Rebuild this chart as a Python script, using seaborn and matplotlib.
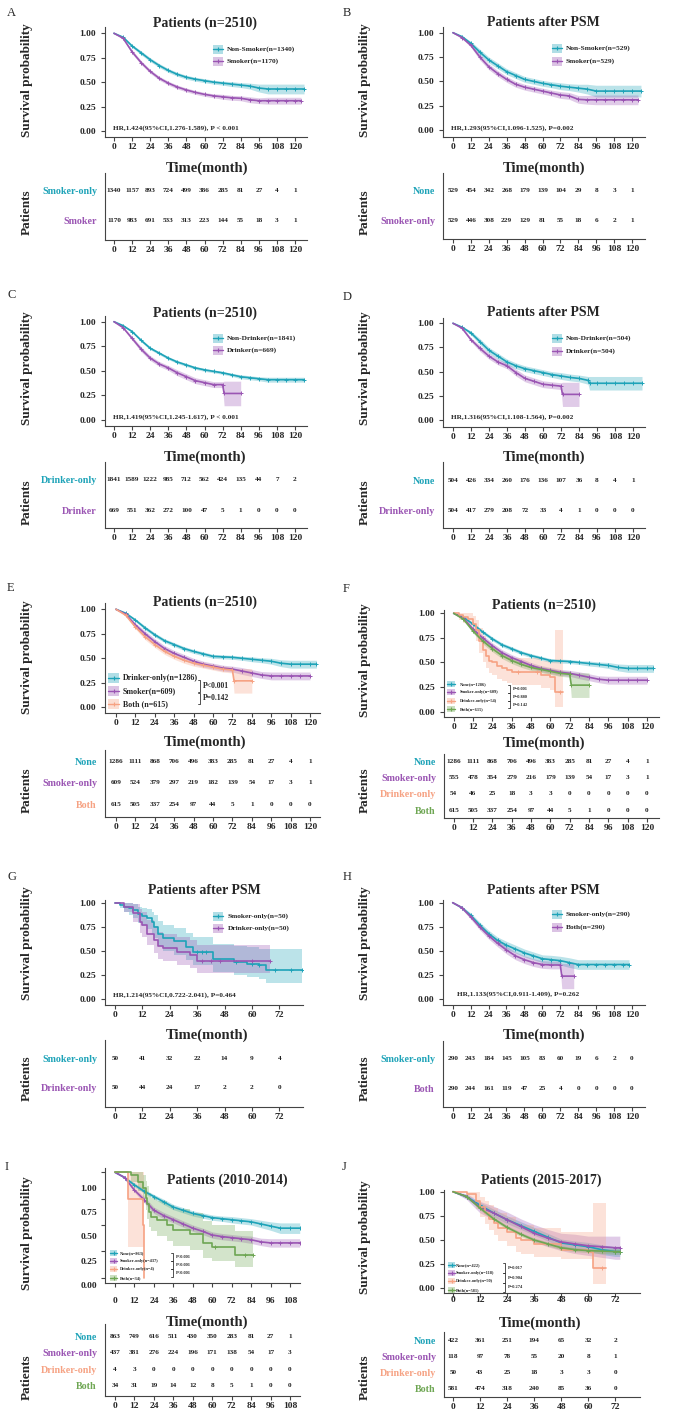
import numpy as np
import matplotlib
matplotlib.use('Agg')
import matplotlib.pyplot as plt
import seaborn as sns
from matplotlib.patches import Rectangle

sns.set_theme(style='ticks')
plt.rcParams['font.family'] = ['Liberation Serif', 'DejaVu Serif']
plt.rcParams['font.weight'] = 'bold'

TEAL = '#1ea3b8'
PURPLE = '#9a55b3'
SALMON = '#f6a283'
GREEN = '#6ea653'
ROW_COLORS = [TEAL, PURPLE, SALMON, GREEN]

# ---------------- time grids (months) ----------------
months_126 = [0, 6, 12, 18, 24, 30, 36, 42, 48, 54, 60, 66, 72, 78, 84, 90, 96, 102, 108, 114, 120, 126]
months_124 = [0, 6, 12, 18, 24, 30, 36, 42, 48, 54, 60, 66, 72, 78, 84, 90, 96, 102, 108, 114, 120, 124]
months_120 = [0, 6, 12, 18, 24, 30, 36, 42, 48, 54, 60, 66, 72, 78, 84, 90, 96, 102, 108, 114, 120]
months_118 = [0, 6, 12, 18, 24, 30, 36, 42, 48, 54, 60, 66, 72, 78, 84, 90, 96, 102, 108, 114, 118]
months_114 = [0, 6, 12, 18, 24, 30, 36, 42, 48, 54, 60, 66, 72, 78, 84, 90, 96, 102, 108, 114]
months_d = [0, 6, 12, 18, 24, 30, 36, 42, 48, 54, 60, 66, 72, 78, 84, 90, 91, 96, 102, 108, 114, 120, 126]
months_drop84 = [0, 6, 12, 18, 24, 30, 36, 42, 48, 54, 60, 66, 72, 73, 84]
months_drop81 = [0, 6, 12, 18, 24, 30, 36, 42, 48, 54, 60, 66, 72, 73, 81]
months_74 = [0, 6, 12, 18, 24, 30, 36, 42, 48, 54, 60, 66, 72, 74]

ticks_120 = [0, 12, 24, 36, 48, 60, 72, 84, 96, 108, 120]
ticks_108 = [0, 12, 24, 36, 48, 60, 72, 84, 96, 108]
ticks_72 = [0, 12, 24, 36, 48, 60, 72]

# ---------------- A ----------------
a_nonsmk = [1.00, 0.96, 0.87, 0.80, 0.73, 0.67, 0.62, 0.58, 0.55, 0.53, 0.515, 0.50, 0.49, 0.48, 0.47, 0.46, 0.44, 0.43, 0.43, 0.43, 0.43, 0.43]
a_nonsmk_ci = [0, 0.01, 0.015, 0.02, 0.02, 0.02, 0.02, 0.02, 0.02, 0.02, 0.02, 0.02, 0.02, 0.025, 0.025, 0.03, 0.04, 0.05, 0.05, 0.05, 0.05, 0.05]
a_smk = [1.0, 0.95, 0.81, 0.70, 0.61, 0.54, 0.49, 0.45, 0.42, 0.395, 0.375, 0.36, 0.35, 0.34, 0.335, 0.32, 0.31, 0.31, 0.31, 0.31, 0.31, 0.31]
a_smk_ci = [0, 0.01, 0.02, 0.02, 0.02, 0.02, 0.02, 0.02, 0.02, 0.02, 0.02, 0.02, 0.025, 0.025, 0.025, 0.03, 0.03, 0.035, 0.035, 0.035, 0.035, 0.035]
a_risk = [[1340, 1157, 893, 724, 499, 386, 285, 81, 27, 4, 1],
          [1170, 983, 691, 533, 313, 223, 144, 55, 18, 3, 1]]

# ---------------- B ----------------
b_nonsmk = [1.0, 0.96, 0.89, 0.80, 0.72, 0.66, 0.60, 0.56, 0.52, 0.50, 0.48, 0.465, 0.45, 0.44, 0.43, 0.42, 0.40, 0.40, 0.40, 0.40, 0.40, 0.40]
b_nonsmk_ci = [0, 0.01, 0.02, 0.03, 0.03, 0.03, 0.03, 0.03, 0.03, 0.03, 0.03, 0.03, 0.035, 0.035, 0.04, 0.05, 0.06, 0.06, 0.06, 0.06, 0.06, 0.06]
b_smk = [1.0, 0.95, 0.87, 0.75, 0.65, 0.58, 0.52, 0.47, 0.44, 0.42, 0.40, 0.38, 0.36, 0.35, 0.315, 0.31, 0.31, 0.31, 0.31, 0.31, 0.31, 0.31]
b_smk_ci = [0, 0.01, 0.02, 0.03, 0.03, 0.03, 0.03, 0.03, 0.03, 0.03, 0.03, 0.03, 0.035, 0.035, 0.04, 0.045, 0.05, 0.05, 0.05, 0.05, 0.05, 0.05]
b_risk = [[529, 454, 342, 268, 179, 139, 104, 29, 8, 3, 1],
          [529, 446, 308, 229, 129, 81, 55, 18, 6, 2, 1]]

# ---------------- C ----------------
c_nondrk = [1.0, 0.96, 0.90, 0.81, 0.73, 0.68, 0.63, 0.59, 0.56, 0.53, 0.51, 0.495, 0.48, 0.46, 0.44, 0.43, 0.42, 0.41, 0.41, 0.41, 0.41, 0.41]
c_nondrk_ci = [0, 0.01, 0.01, 0.015, 0.015, 0.015, 0.015, 0.015, 0.015, 0.015, 0.015, 0.015, 0.015, 0.015, 0.02, 0.02, 0.02, 0.025, 0.025, 0.025, 0.025, 0.025]
c_drk = [1.0, 0.94, 0.83, 0.72, 0.63, 0.57, 0.53, 0.48, 0.44, 0.40, 0.38, 0.36, 0.36, 0.27, 0.27]
c_drk_ci = [0, 0.01, 0.02, 0.025, 0.025, 0.025, 0.025, 0.03, 0.03, 0.03, 0.03, 0.03, 0.03, 0.125, 0.125]
c_risk = [[1841, 1589, 1222, 985, 712, 562, 424, 135, 44, 7, 2],
          [669, 551, 362, 272, 100, 47, 5, 1, 0, 0, 0]]

# ---------------- D ----------------
d_nondrk = [1.0, 0.96, 0.90, 0.81, 0.72, 0.66, 0.60, 0.56, 0.53, 0.51, 0.49, 0.47, 0.455, 0.44, 0.43, 0.41, 0.38, 0.38, 0.38, 0.38, 0.38, 0.38, 0.38]
d_nondrk_ci = [0, 0.01, 0.02, 0.03, 0.03, 0.03, 0.03, 0.03, 0.03, 0.03, 0.03, 0.03, 0.035, 0.035, 0.035, 0.04, 0.07, 0.07, 0.07, 0.07, 0.07, 0.07, 0.07]
d_drk = [1.0, 0.95, 0.83, 0.74, 0.66, 0.60, 0.56, 0.49, 0.43, 0.40, 0.37, 0.36, 0.35, 0.265, 0.265]
d_drk_ci = [0, 0.01, 0.02, 0.03, 0.03, 0.03, 0.03, 0.035, 0.035, 0.035, 0.035, 0.035, 0.035, 0.125, 0.125]
d_risk = [[504, 426, 334, 260, 176, 136, 107, 36, 8, 4, 1],
          [504, 417, 279, 208, 72, 33, 4, 1, 0, 0, 0]]

# ---------------- E / F (whole cohort, 3-4 groups) ----------------
none_all = [1.0, 0.96, 0.89, 0.81, 0.74, 0.68, 0.64, 0.60, 0.57, 0.545, 0.52, 0.515, 0.51, 0.50, 0.49, 0.48, 0.47, 0.45, 0.44, 0.44, 0.44, 0.44]
none_all_ci = [0, 0.01, 0.015, 0.02, 0.02, 0.02, 0.02, 0.02, 0.02, 0.02, 0.02, 0.02, 0.02, 0.02, 0.025, 0.025, 0.03, 0.035, 0.04, 0.04, 0.04, 0.04]
smk_only_all = [1.0, 0.95, 0.84, 0.75, 0.67, 0.60, 0.55, 0.51, 0.47, 0.44, 0.42, 0.40, 0.39, 0.37, 0.35, 0.33, 0.32, 0.32, 0.32, 0.32, 0.32]
smk_only_all_ci = [0, 0.01, 0.02, 0.03, 0.03, 0.03, 0.03, 0.03, 0.03, 0.03, 0.03, 0.03, 0.03, 0.035, 0.035, 0.035, 0.04, 0.04, 0.04, 0.04, 0.04]
both_all = [1.0, 0.94, 0.82, 0.72, 0.64, 0.57, 0.52, 0.48, 0.45, 0.43, 0.41, 0.39, 0.38, 0.27, 0.27]
both_all_ci = [0, 0.01, 0.02, 0.03, 0.03, 0.03, 0.03, 0.03, 0.03, 0.03, 0.03, 0.03, 0.03, 0.125, 0.125]
f_drk_t = [0, 3, 6, 9, 12, 14, 16, 18, 20, 22, 24, 27, 30, 33, 36, 42, 48, 54, 60, 63, 68]
f_drk = [1.0, 0.98, 0.96, 0.94, 0.89, 0.83, 0.72, 0.63, 0.57, 0.52, 0.50, 0.46, 0.44, 0.42, 0.40, 0.40, 0.40, 0.37, 0.35, 0.20, 0.20]
f_drk_lo = [1.0, 0.93, 0.90, 0.87, 0.80, 0.72, 0.60, 0.50, 0.44, 0.39, 0.37, 0.33, 0.31, 0.29, 0.27, 0.27, 0.27, 0.24, 0.22, 0.05, 0.05]
f_drk_hi = [1.0, 1.0, 1.0, 1.0, 0.97, 0.93, 0.85, 0.77, 0.72, 0.67, 0.65, 0.61, 0.59, 0.57, 0.55, 0.55, 0.55, 0.52, 0.50, 0.83, 0.83]
e_risk = [[1286, 1111, 868, 706, 496, 383, 285, 81, 27, 4, 1],
          [609, 524, 379, 297, 219, 182, 139, 54, 17, 3, 1],
          [615, 505, 337, 254, 97, 44, 5, 1, 0, 0, 0]]
f_risk = [[1286, 1111, 868, 706, 496, 383, 285, 81, 27, 4, 1],
          [555, 478, 354, 279, 216, 179, 139, 54, 17, 3, 1],
          [54, 46, 25, 18, 3, 3, 0, 0, 0, 0, 0],
          [615, 505, 337, 254, 97, 44, 5, 1, 0, 0, 0]]

# ---------------- G ----------------
g_smk_t = [0, 2, 4, 6, 8, 10, 12, 14, 16, 17, 19, 21, 26, 31, 34, 43, 52, 58, 63, 66, 82]
g_smk = [1.0, 0.98, 0.96, 0.94, 0.92, 0.88, 0.86, 0.84, 0.80, 0.75, 0.68, 0.63, 0.60, 0.545, 0.49, 0.42, 0.39, 0.37, 0.35, 0.30, 0.30]
g_smk_lo = [1.0, 0.94, 0.90, 0.87, 0.84, 0.79, 0.76, 0.73, 0.68, 0.63, 0.55, 0.50, 0.46, 0.41, 0.35, 0.28, 0.25, 0.23, 0.21, 0.17, 0.17]
g_smk_hi = [1.0, 1.0, 1.0, 1.0, 0.99, 0.96, 0.94, 0.93, 0.90, 0.87, 0.81, 0.77, 0.74, 0.69, 0.64, 0.57, 0.55, 0.54, 0.52, 0.52, 0.52]
g_drk_t = [0, 4, 8, 11, 12, 14, 17, 19, 21, 27, 33, 36, 60, 68]
g_drk = [1.0, 0.96, 0.89, 0.80, 0.77, 0.68, 0.61, 0.55, 0.53, 0.49, 0.46, 0.40, 0.40, 0.40]
g_drk_lo = [1.0, 0.90, 0.80, 0.69, 0.65, 0.56, 0.48, 0.42, 0.40, 0.36, 0.32, 0.27, 0.27, 0.27]
g_drk_hi = [1.0, 1.0, 0.99, 0.93, 0.90, 0.82, 0.76, 0.70, 0.68, 0.65, 0.61, 0.56, 0.56, 0.56]
g_risk = [[50, 41, 32, 22, 14, 9, 4],
          [50, 44, 24, 17, 2, 2, 0]]

# ---------------- H ----------------
h_smk = [1.0, 0.95, 0.87, 0.77, 0.68, 0.61, 0.56, 0.52, 0.48, 0.45, 0.42, 0.41, 0.40, 0.38, 0.36, 0.36, 0.36, 0.36, 0.36, 0.36, 0.36]
h_smk_ci = [0, 0.015, 0.025, 0.03, 0.035, 0.035, 0.04, 0.04, 0.04, 0.04, 0.04, 0.045, 0.045, 0.05, 0.05, 0.05, 0.05, 0.05, 0.05, 0.05, 0.05]
h_both = [1.0, 0.95, 0.855, 0.75, 0.66, 0.58, 0.51, 0.45, 0.41, 0.38, 0.36, 0.355, 0.355, 0.24, 0.24]
h_both_ci = [0, 0.015, 0.025, 0.03, 0.035, 0.035, 0.04, 0.04, 0.04, 0.04, 0.04, 0.04, 0.04, 0.13, 0.13]
h_risk = [[290, 243, 184, 145, 105, 83, 60, 19, 6, 2, 0],
          [290, 244, 161, 119, 47, 25, 4, 0, 0, 0, 0]]

# ---------------- I ----------------
i_none = [1.0, 0.95, 0.88, 0.82, 0.77, 0.72, 0.67, 0.64, 0.61, 0.59, 0.57, 0.56, 0.55, 0.54, 0.53, 0.51, 0.49, 0.47, 0.47, 0.47]
i_none_ci = [0, 0.01, 0.02, 0.02, 0.02, 0.025, 0.025, 0.025, 0.025, 0.025, 0.025, 0.025, 0.03, 0.03, 0.03, 0.035, 0.04, 0.05, 0.05, 0.05]
i_smk = [1.0, 0.95, 0.83, 0.74, 0.64, 0.59, 0.55, 0.51, 0.47, 0.44, 0.405, 0.39, 0.38, 0.37, 0.36, 0.34, 0.33, 0.33, 0.33, 0.33]
i_smk_ci = [0, 0.01, 0.02, 0.03, 0.03, 0.03, 0.03, 0.03, 0.03, 0.03, 0.03, 0.03, 0.03, 0.03, 0.035, 0.035, 0.04, 0.04, 0.04, 0.04]
i_drk_t = [0, 8, 17, 18]
i_drk = [1.0, 0.75, 0.50, 0.0]
i_drk_lo = [1.0, 0.29, 0.29, 0.0]
i_drk_hi = [1.0, 1.0, 1.0, 0.0]
i_both_t = [0, 10, 14, 17, 19, 20, 21, 22, 26, 32, 36, 46, 54, 60, 74, 85]
i_both = [1.0, 0.97, 0.91, 0.85, 0.76, 0.70, 0.62, 0.58, 0.55, 0.50, 0.45, 0.41, 0.33, 0.29, 0.215, 0.215]
i_both_lo = [1.0, 0.91, 0.82, 0.75, 0.64, 0.56, 0.48, 0.44, 0.40, 0.35, 0.30, 0.26, 0.19, 0.16, 0.10, 0.10]
i_both_hi = [1.0, 1.0, 1.0, 0.97, 0.92, 0.87, 0.80, 0.76, 0.73, 0.69, 0.65, 0.61, 0.54, 0.50, 0.44, 0.44]
i_risk = [[863, 749, 616, 511, 430, 350, 283, 81, 27, 1],
          [437, 381, 276, 224, 196, 171, 138, 54, 17, 3],
          [4, 3, 0, 0, 0, 0, 0, 0, 0, 0],
          [34, 31, 19, 14, 12, 8, 5, 1, 0, 0]]

# ---------------- J ----------------
j_none = [1.0, 0.95, 0.86, 0.78, 0.71, 0.65, 0.59, 0.53, 0.47, 0.45, 0.43, 0.40, 0.38, 0.38]
j_none_ci = [0, 0.02, 0.03, 0.04, 0.04, 0.04, 0.04, 0.04, 0.04, 0.04, 0.045, 0.05, 0.05, 0.05]
j_smk = [1.0, 0.95, 0.84, 0.78, 0.71, 0.64, 0.57, 0.52, 0.48, 0.46, 0.44, 0.43, 0.42, 0.42]
j_smk_ci = [0, 0.03, 0.06, 0.07, 0.08, 0.08, 0.09, 0.09, 0.09, 0.1, 0.1, 0.11, 0.12, 0.12]
j_drk_t = [0, 6, 10, 12, 14, 16, 18, 20, 24, 28, 30, 36, 48, 60, 62, 68]
j_drk = [1.0, 0.98, 0.90, 0.84, 0.78, 0.72, 0.68, 0.62, 0.58, 0.52, 0.50, 0.46, 0.40, 0.38, 0.21, 0.21]
j_drk_lo = [1.0, 0.93, 0.82, 0.74, 0.67, 0.60, 0.55, 0.49, 0.44, 0.38, 0.36, 0.32, 0.30, 0.30, 0.04, 0.04]
j_drk_hi = [1.0, 1.0, 1.0, 0.95, 0.90, 0.86, 0.83, 0.78, 0.74, 0.68, 0.66, 0.62, 0.58, 0.58, 0.88, 0.88]
j_both = [1.0, 0.95, 0.83, 0.72, 0.63, 0.56, 0.50, 0.46, 0.42, 0.40, 0.39, 0.385, 0.38, 0.38]
j_both_ci = [0, 0.01, 0.02, 0.02, 0.02, 0.02, 0.02, 0.02, 0.02, 0.02, 0.02, 0.025, 0.03, 0.03]
j_risk = [[422, 361, 251, 194, 65, 32, 2],
          [118, 97, 78, 55, 20, 8, 1],
          [50, 43, 25, 18, 3, 3, 0],
          [581, 474, 318, 240, 85, 36, 0]]

groups4 = ['None', 'Smoker-only', 'Drinker-only', 'Both']

W, H = 674, 1411
fig = plt.figure(figsize=(W / 100, H / 100), dpi=100)
fig.patch.set_facecolor('white')


def px_ax(box):
    l, t, r, b = box
    return fig.add_axes([l / W, 1 - b / H, (r - l) / W, (b - t) / H])


def style_ax(ax):
    sns.despine(ax=ax)
    for sp in ('left', 'bottom'):
        ax.spines[sp].set_linewidth(0.8)
        ax.spines[sp].set_color('#444444')
    ax.set_facecolor('none')
    ax.grid(False)
    ax.tick_params(length=3, width=0.8, color='#444444', labelsize=6.8, pad=1.5)


def curve(ax, c):
    t = np.asarray(c['t'], float)
    s = np.asarray(c['s'], float)
    steps = c.get('steps', False)
    if 'ci' in c:
        lo = s - np.asarray(c['ci'])
        hi = s + np.asarray(c['ci'])
    else:
        lo = np.asarray(c['lo'])
        hi = np.asarray(c['hi'])
    ax.fill_between(t, lo, hi, color=c['color'], alpha=0.3, lw=0,
                    step='post' if steps else None)
    sns.lineplot(x=t, y=s, ax=ax, color=c['color'], lw=1.2, estimator=None, sort=False,
                 drawstyle='steps-post' if steps else 'default')
    marks = c.get('marks', t[1:] if not steps else [])
    if len(marks):
        marks = np.asarray(marks, float)
        if steps:
            ym = s[np.searchsorted(t, marks, side='right') - 1]
        else:
            ym = np.interp(marks, t, s)
        ax.plot(marks, ym, ls='none', marker='+', ms=3, mew=0.7, color=c['color'])


def draw_panel(p):
    x0 = p['x0']
    k = (p['x1'] - x0) / p['ticks'][-1]
    # KM axes
    ax = px_ax(p['km'])
    style_ax(ax)
    l, t, r, b = p['km']
    u = p['y0'] - p['y1']
    for c in p['curves']:
        curve(ax, c)
    ax.set_xlim((l - x0) / k, (r - x0) / k)
    ax.set_ylim((p['y0'] - b) / u, (p['y0'] - t) / u)
    ax.set_xticks(p['ticks'])
    ax.set_xticklabels([str(v) for v in p['ticks']])
    ax.set_yticks([0, 0.25, 0.5, 0.75, 1.0])
    ax.tick_params(axis='x', pad=p.get('xpad', 1.5))
    ax.tick_params(axis='y', pad=3.5)
    ax.set_xlabel('')
    ax.set_ylabel('')
    if p.get('shift_y'):
        ax.set_yticklabels([])
        for lab, py in zip(['0.00', '0.25', '0.50', '0.75', '1.00'], p['shift_y']):
            ov_text(97, py, lab, 6.8, ha='right')
    else:
        ax.set_yticklabels(['0.00', '0.25', '0.50', '0.75', '1.00'])

    # risk table
    tx = px_ax(p['tab'])
    style_ax(tx)
    l, t, r, b = p['tab']
    d = p['drow']
    tx.set_xlim((l - x0) / k, (r - x0) / k)
    tx.set_ylim(-(b - p['row0']) / d, (p['row0'] - t) / d)
    tx.set_xticks(p['ticks'])
    tx.set_xticklabels([str(v) for v in p['ticks']])
    tx.tick_params(axis='x', pad=1.5)
    n = len(p['risk'])
    tx.set_yticks([-i for i in range(n)])
    tx.set_yticklabels(p['rows'], fontsize=7.2)
    tx.tick_params(axis='y', length=0, pad=5.8)
    for i, lab in enumerate(tx.get_yticklabels()):
        lab.set_color(ROW_COLORS[i])
    for i, row in enumerate(p['risk']):
        for m, v in zip(p['ticks'], row):
            tx.text(m, -i, str(v), ha='center', va='center', fontsize=5.2, fontweight='bold',
                    color='#222222')


# overlay in pixel coordinates for titles, legends and annotations
def ov_text(x, y, s, fs, **kw):
    kw.setdefault('va', 'center')
    kw.setdefault('ha', 'left')
    OV.text(x, y, s, fontsize=fs, **kw)


def legend_rows(x, ys, w, h, tx, labels, colors, fs):
    for y, lab, c in zip(ys, labels, colors):
        OV.add_patch(Rectangle((x, y - h / 2), w, h, color=c, alpha=0.35, lw=0))
        OV.plot([x, x + w], [y, y], color=c, lw=1)
        OV.plot([x + w / 2], [y], marker='+', color=c, ms=3, mew=0.8)
        ov_text(tx, y, lab, fs)


def brackets(x, segs, texts, fs):
    for (ya, yb), s in zip(segs, texts):
        OV.plot([x - 2, x, x, x - 2], [ya, ya, yb, yb], color='#333333', lw=0.6)
        ov_text(x + 2.5, (ya + yb) / 2, s, fs)


OV = fig.add_axes([0, 0, 1, 1], zorder=10)
OV.set_xlim(0, W)
OV.set_ylim(H, 0)
OV.axis('off')

panels = [
    dict(km=(105, 27, 307, 137), x0=114, x1=295, y1=33.3, y0=131, ticks=ticks_120,
         tab=(105, 173, 307, 240), row0=191, drow=29.3, rows=['Smoker-only', 'Smoker'], risk=a_risk,
         curves=[dict(t=months_126, s=a_nonsmk, ci=a_nonsmk_ci, color=TEAL),
                 dict(t=months_124, s=a_smk, ci=a_smk_ci, color=PURPLE)]),
    dict(km=(443, 27, 645, 137), x0=453, x1=632, y1=32.7, y0=130, ticks=ticks_120,
         tab=(443, 173, 645, 239), row0=190.5, drow=29.5, rows=['None', 'Smoker-only'], risk=b_risk,
         curves=[dict(t=months_126, s=b_nonsmk, ci=b_nonsmk_ci, color=TEAL),
                 dict(t=months_124, s=b_smk, ci=b_smk_ci, color=PURPLE)]),
    dict(km=(105, 316, 307, 426), x0=114, x1=295, y1=321.7, y0=420, ticks=ticks_120,
         tab=(105, 462, 307, 528), row0=479.3, drow=30.7, rows=['Drinker-only', 'Drinker'], risk=c_risk,
         curves=[dict(t=months_126, s=c_nondrk, ci=c_nondrk_ci, color=TEAL),
                 dict(t=months_drop84, s=c_drk, ci=c_drk_ci, color=PURPLE)]),
    dict(km=(443, 318, 645, 427), x0=453, x1=633, y1=323.3, y0=420, ticks=ticks_120,
         tab=(443, 462, 645, 528), row0=480, drow=30, rows=['None', 'Drinker-only'], risk=d_risk,
         curves=[dict(t=months_d, s=d_nondrk, ci=d_nondrk_ci, color=TEAL),
                 dict(t=months_drop84, s=d_drk, ci=d_drk_ci, color=PURPLE)]),
    dict(km=(105, 603, 320, 713), x0=116, x1=310, y1=609.3, y0=707.3, ticks=ticks_120,
         tab=(105, 750, 320, 817), row0=761.7, drow=21.2, rows=['None', 'Smoker-only', 'Both'], risk=e_risk,
         curves=[dict(t=months_124, s=none_all, ci=none_all_ci, color=TEAL),
                 dict(t=months_120, s=smk_only_all, ci=smk_only_all_ci, color=PURPLE),
                 dict(t=months_drop84, s=both_all, ci=both_all_ci, color=SALMON)]),
    dict(km=(444, 610, 659, 717), x0=453.7, x1=647, y1=613.3, y0=711.7, ticks=ticks_120,
         tab=(444, 754, 659, 818), row0=761.7, drow=16.1, rows=groups4, risk=f_risk,
         curves=[dict(t=months_124, s=none_all, ci=none_all_ci, color=TEAL),
                 dict(t=months_120, s=smk_only_all, ci=smk_only_all_ci, color=PURPLE),
                 dict(t=f_drk_t, s=f_drk, lo=f_drk_lo, hi=f_drk_hi, color=SALMON, steps=True,
                      marks=[40, 52, 66]),
                 dict(t=months_drop84, s=both_all, ci=both_all_ci, color=GREEN)]),
    dict(km=(105, 900, 303, 1005), x0=115, x1=279.3, y1=902.7, y0=999.3, ticks=ticks_72,
         tab=(105, 1040, 303, 1107), row0=1058.3, drow=29, rows=['Smoker-only', 'Drinker-only'], risk=g_risk,
         curves=[dict(t=g_smk_t, s=g_smk, lo=g_smk_lo, hi=g_smk_hi, color=TEAL, steps=True,
                      marks=[36, 38, 40, 53, 60, 63, 70, 77, 82]),
                 dict(t=g_drk_t, s=g_drk, lo=g_drk_lo, hi=g_drk_hi, color=PURPLE, steps=True,
                      marks=[38, 42, 46, 60, 68])]),
    dict(km=(443, 900, 645, 1005), x0=452.7, x1=632, y1=902.7, y0=999.3, ticks=ticks_120,
         tab=(443, 1041, 645, 1107), row0=1058.3, drow=29.7, rows=['Smoker-only', 'Both'], risk=h_risk,
         curves=[dict(t=months_118, s=h_smk, ci=h_smk_ci, color=TEAL),
                 dict(t=months_drop81, s=h_both, ci=h_both_ci, color=PURPLE)]),
    dict(km=(105, 1168, 300, 1283), x0=115, x1=290, y1=1172.3, y0=1277.7, ticks=ticks_108, xpad=7,
         shift_y=[1285.7, 1261.7, 1237.3, 1213.3, 1189],
         tab=(105, 1324, 300, 1396), row0=1336.7, drow=16.3, rows=groups4, risk=i_risk,
         curves=[dict(t=months_114, s=i_none, ci=i_none_ci, color=TEAL),
                 dict(t=months_114, s=i_smk, ci=i_smk_ci, color=PURPLE),
                 dict(t=i_drk_t, s=i_drk, lo=i_drk_lo, hi=i_drk_hi, color=SALMON, steps=True),
                 dict(t=i_both_t, s=i_both, lo=i_both_lo, hi=i_both_hi, color=GREEN, steps=True,
                      marks=[62, 80, 85])]),
    dict(km=(444, 1190, 640, 1293), x0=453, x1=615.3, y1=1191.7, y0=1288.3, ticks=ticks_72, xpad=-1,
         tab=(444, 1332, 640, 1397), row0=1341, drow=15.7, rows=groups4, risk=j_risk,
         curves=[dict(t=months_74, s=j_none, ci=j_none_ci, color=TEAL),
                 dict(t=months_74, s=j_smk, ci=j_smk_ci, color=PURPLE),
                 dict(t=j_drk_t, s=j_drk, lo=j_drk_lo, hi=j_drk_hi, color=SALMON, steps=True,
                      marks=[66]),
                 dict(t=months_74, s=j_both, ci=j_both_ci, color=GREEN)]),
]

for p in panels:
    draw_panel(p)

# panel letters
for s, x, y in [('A', 7, 13), ('B', 343, 13), ('C', 7, 295), ('D', 343, 297), ('E', 7, 588),
                ('F', 343, 589), ('G', 7, 877), ('H', 343, 877), ('I', 5, 1167), ('J', 342, 1167)]:
    ov_text(x, y, s, 9, fontweight='normal')

# titles
for s, x, y in [('Patients (n=2510)', 205, 23), ('Patients after PSM', 543, 23),
                ('Patients (n=2510)', 205, 313), ('Patients after PSM', 543, 313),
                ('Patients (n=2510)', 205, 602), ('Patients (n=2510)', 544, 605),
                ('Patients after PSM', 204, 890), ('Patients after PSM', 543, 890),
                ('Patients (2010-2014)', 227, 1180), ('Patients (2015-2017)', 541, 1180)]:
    ov_text(x, y, s, 10, ha='center')

# time labels
for x, y in [(207, 168), (544, 168), (205, 457), (544, 457), (205, 742), (544, 743),
             (207, 1035), (544, 1035), (207, 1322), (540, 1323)]:
    ov_text(x, y, 'Time(month)', 10.5, ha='center')

# y labels
for x, y in [(27, 80), (365, 80), (27, 368), (365, 368), (27, 657), (365, 660),
             (27, 943), (365, 943), (27, 1233), (365, 1237)]:
    ov_text(x, y, 'Survival probability', 9.5, ha='center', rotation=90)
for x, y in [(27, 212), (365, 212), (27, 502), (365, 502), (27, 790), (365, 790),
             (27, 1078), (365, 1078), (27, 1377), (365, 1377)]:
    ov_text(x, y, 'Patients', 9.5, ha='center', rotation=90)

# HR annotations
for s, x, y in [('HR,1.424(95%CI,1.276-1.589), P < 0.001', 113, 128),
                ('HR,1.293(95%CI,1.096-1.525), P=0.002', 451, 128),
                ('HR,1.419(95%CI,1.245-1.617), P < 0.001', 113, 417),
                ('HR,1.316(95%CI,1.108-1.564), P=0.002', 451, 417),
                ('HR,1.214(95%CI,0.722-2.041), P=0.464', 113, 995),
                ('HR,1.133(95%CI,0.911-1.409), P=0.262', 457, 994)]:
    ov_text(x, y, s, 5.2)

# legends
legend_rows(213, [49, 61], 10, 9, 227, ['Non-Smoker(n=1340)', 'Smoker(n=1170)'], [TEAL, PURPLE], 5.3)
legend_rows(552, [48, 61], 10, 9, 566, ['Non-Smoker(n=529)', 'Smoker(n=529)'], [TEAL, PURPLE], 5.3)
legend_rows(213, [338, 350], 10, 9, 227, ['Non-Drinker(n=1841)', 'Drinker(n=669)'], [TEAL, PURPLE], 5.3)
legend_rows(552, [338, 351], 10, 9, 566, ['Non-Drinker(n=504)', 'Drinker(n=504)'], [TEAL, PURPLE], 5.3)
legend_rows(213, [916, 928], 10, 9, 228, ['Smoker-only(n=50)', 'Drinker-only(n=50)'], [TEAL, PURPLE], 5.3)
legend_rows(552, [914, 927], 10, 9, 566, ['Smoker-only(n=290)', 'Both(n=290)'], [TEAL, PURPLE], 5.3)
legend_rows(108, [678, 691, 704], 11, 10, 123, ['Drinker-only(n=1286)', 'Smoker(n=609)', 'Both (n=615)'],
            [TEAL, PURPLE, SALMON], 5.8)
brackets(200, [(680, 692), (693, 704)], ['P<0.001', 'P=0.142'], 5.5)
legend_rows(447, [684, 692, 701, 709], 8, 6, 460,
            ['None(n=1286)', 'Smoker-only(n=609)', 'Drinker-only(n=54)', 'Both(n=615)'], ROW_COLORS, 3.2)
brackets(510, [(685, 693), (693, 701), (701, 708)], ['P=0.001', 'P=0.880', 'P=0.142'], 3.2)
legend_rows(110, [1253, 1261, 1269, 1278], 7, 6, 120,
            ['None(n=863)', 'Smoker-only(n=437)', 'Drinker-only(n=4)', 'Both(n=34)'], ROW_COLORS, 3.2)
brackets(173, [(1253, 1261), (1261, 1269), (1269, 1277)], ['P<0.001', 'P<0.001', 'P<0.001'], 3.2)
legend_rows(448, [1265, 1273, 1281, 1290], 7, 6, 456,
            ['None(n=422)', 'Smoker-only(n=118)', 'Drinker-only(n=50)', 'Both(n=581)'], ROW_COLORS, 3.2)
brackets(505, [(1263, 1273), (1273, 1283), (1283, 1292)], ['P=0.017', 'P=0.904', 'P=0.274'], 3.2)

fig.savefig('out.png', dpi=100, facecolor='white')
